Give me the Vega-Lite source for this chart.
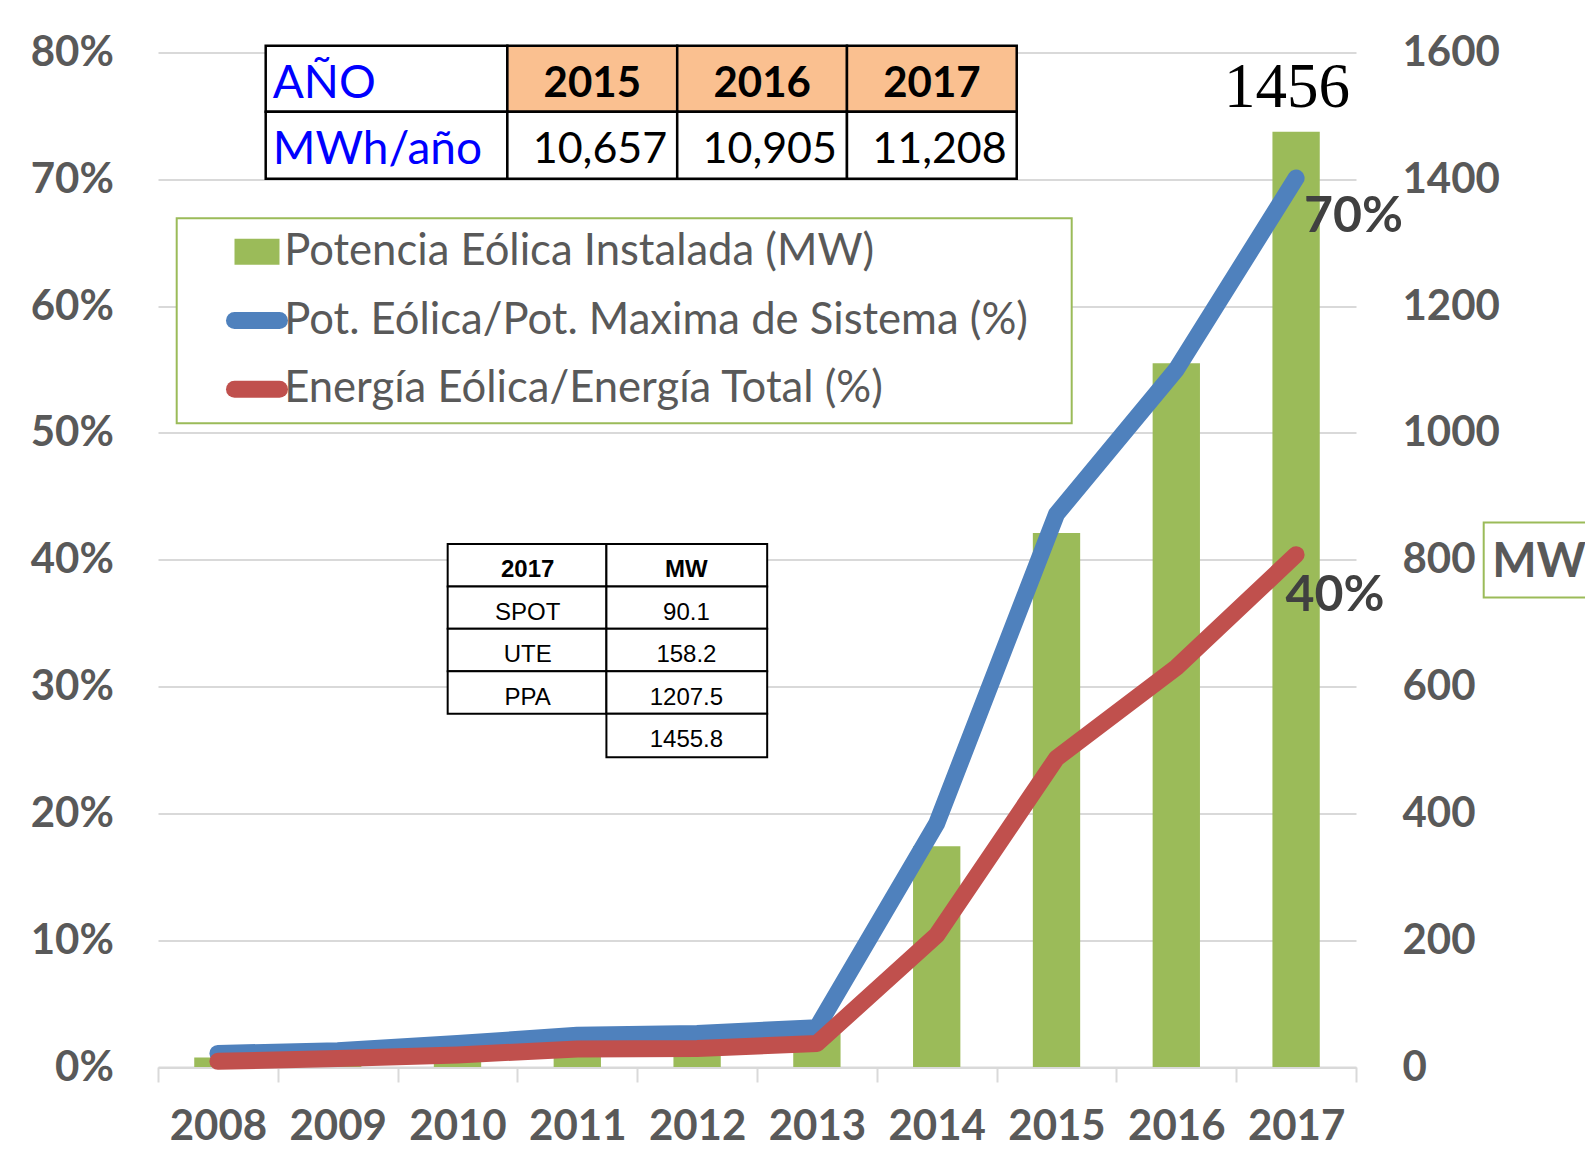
{
  "$schema": "https://vega.github.io/schema/vega-lite/v6.json",
  "width": 1198,
  "height": 1014.5,
  "autosize": {"type": "none"},
  "padding": {"left": 158, "top": 52.5, "right": 229, "bottom": 88},
  "background": "white",
  "config": {"view": {"stroke": null}, "font": "Lato"},
  "datasets": {
    "bars": [
      {"year": "2008", "mw": 15},
      {"year": "2009", "mw": 18},
      {"year": "2010", "mw": 25},
      {"year": "2011", "mw": 38},
      {"year": "2012", "mw": 44},
      {"year": "2013", "mw": 53},
      {"year": "2014", "mw": 348},
      {"year": "2015", "mw": 842},
      {"year": "2016", "mw": 1110},
      {"year": "2017", "mw": 1475, "label": "1456"}
    ],
    "lines": [
      {"year": "2008", "series": "Pot. Eólica/Pot. Maxima de Sistema (%)", "value": 0.0107},
      {"year": "2009", "series": "Pot. Eólica/Pot. Maxima de Sistema (%)", "value": 0.0128},
      {"year": "2010", "series": "Pot. Eólica/Pot. Maxima de Sistema (%)", "value": 0.0185},
      {"year": "2011", "series": "Pot. Eólica/Pot. Maxima de Sistema (%)", "value": 0.025},
      {"year": "2012", "series": "Pot. Eólica/Pot. Maxima de Sistema (%)", "value": 0.0264},
      {"year": "2013", "series": "Pot. Eólica/Pot. Maxima de Sistema (%)", "value": 0.031},
      {"year": "2014", "series": "Pot. Eólica/Pot. Maxima de Sistema (%)", "value": 0.192},
      {"year": "2015", "series": "Pot. Eólica/Pot. Maxima de Sistema (%)", "value": 0.436},
      {"year": "2016", "series": "Pot. Eólica/Pot. Maxima de Sistema (%)", "value": 0.55},
      {"year": "2017", "series": "Pot. Eólica/Pot. Maxima de Sistema (%)", "value": 0.701},
      {"year": "2008", "series": "Energía Eólica/Energía Total (%)", "value": 0.0045},
      {"year": "2009", "series": "Energía Eólica/Energía Total (%)", "value": 0.0067},
      {"year": "2010", "series": "Energía Eólica/Energía Total (%)", "value": 0.0095},
      {"year": "2011", "series": "Energía Eólica/Energía Total (%)", "value": 0.0142},
      {"year": "2012", "series": "Energía Eólica/Energía Total (%)", "value": 0.0146},
      {"year": "2013", "series": "Energía Eólica/Energía Total (%)", "value": 0.0185},
      {"year": "2014", "series": "Energía Eólica/Energía Total (%)", "value": 0.104},
      {"year": "2015", "series": "Energía Eólica/Energía Total (%)", "value": 0.2435},
      {"year": "2016", "series": "Energía Eólica/Energía Total (%)", "value": 0.315},
      {"year": "2017", "series": "Energía Eólica/Energía Total (%)", "value": 0.404}
    ],
    "topTable": [
      {"kind": "rowhead", "text": "AÑO", "x0": 0.899, "x1": 2.916, "y0": 80.53, "y1": 75.33},
      {"kind": "year", "text": "2015", "x0": 2.916, "x1": 4.334, "y0": 80.53, "y1": 75.33},
      {"kind": "year", "text": "2016", "x0": 4.334, "x1": 5.751, "y0": 80.53, "y1": 75.33},
      {"kind": "year", "text": "2017", "x0": 5.751, "x1": 7.168, "y0": 80.53, "y1": 75.33},
      {"kind": "rowhead", "text": "MWh/año", "x0": 0.899, "x1": 2.916, "y0": 75.33, "y1": 70.05},
      {"kind": "num", "text": "10,657", "x0": 2.916, "x1": 4.334, "y0": 75.33, "y1": 70.05},
      {"kind": "num", "text": "10,905", "x0": 4.334, "x1": 5.751, "y0": 75.33, "y1": 70.05},
      {"kind": "num", "text": "11,208", "x0": 5.751, "x1": 7.168, "y0": 75.33, "y1": 70.05}
    ],
    "midTable": [
      {"kind": "head", "text": "2017", "x0": 2.418, "x1": 3.743, "y0": 41.25, "y1": 37.9},
      {"kind": "head", "text": "MW", "x0": 3.743, "x1": 5.085, "y0": 41.25, "y1": 37.9},
      {"kind": "body", "text": "SPOT", "x0": 2.418, "x1": 3.743, "y0": 37.9, "y1": 34.55},
      {"kind": "body", "text": "90.1", "x0": 3.743, "x1": 5.085, "y0": 37.9, "y1": 34.55},
      {"kind": "body", "text": "UTE", "x0": 2.418, "x1": 3.743, "y0": 34.55, "y1": 31.2},
      {"kind": "body", "text": "158.2", "x0": 3.743, "x1": 5.085, "y0": 34.55, "y1": 31.2},
      {"kind": "body", "text": "PPA", "x0": 2.418, "x1": 3.743, "y0": 31.2, "y1": 27.85},
      {"kind": "body", "text": "1207.5", "x0": 3.743, "x1": 5.085, "y0": 31.2, "y1": 27.85},
      {"kind": "body", "text": "1455.8", "x0": 3.743, "x1": 5.085, "y0": 27.85, "y1": 24.43}
    ],
    "mwBox": [
      {"text": "MW", "x0": 11.066, "x1": 12.2, "y0": 42.94, "y1": 37.03}
    ]
  },
  "resolve": {"scale": {"x": "independent", "y": "independent"}},
  "layer": [
    {
      "data": {"name": "bars"},
      "layer": [
        {
          "mark": {"type": "bar", "width": {"band": 0.395}},
          "encoding": {
            "x": {
              "field": "year", "type": "nominal",
              "scale": {"paddingInner": 0, "paddingOuter": 0},
              "axis": {
                "title": null, "labelAngle": 0, "labelFont": "Lato", "labelFontWeight": "bold",
                "labelFontSize": 42, "labelColor": "#595959", "domainColor": "#D9D9D9", "domainWidth": 2,
                "tickColor": "#D9D9D9", "tickWidth": 2, "tickSize": 15, "tickBand": "extent",
                "labelPadding": 24, "grid": false
              }
            },
            "y": {
              "field": "mw", "type": "quantitative",
              "scale": {"domain": [0, 1600], "nice": false},
              "axis": {
                "orient": "right", "title": null, "values": [0, 200, 400, 600, 800, 1000, 1200, 1400, 1600], "format": "d",
                "grid": false, "domain": false, "ticks": false, "tickSize": 0, "labelPadding": 46,
                "labelFont": "Lato", "labelFontWeight": "bold", "labelFontSize": 42, "labelColor": "#595959"
              }
            },
            "color": {
              "datum": "Potencia Eólica Instalada (MW)",
              "type": "nominal",
              "title": null,
              "scale": {
                "domain": ["Potencia Eólica Instalada (MW)", "Pot. Eólica/Pot. Maxima de Sistema (%)", "Energía Eólica/Energía Total (%)"],
                "range": ["#9BBB59", "#4F81BD", "#C0504D"]
              },
              "legend": {
                "orient": "none", "legendX": 18.7, "legendY": 165.8, "direction": "vertical", "columns": 1,
                "title": null, "padding": 11, "fillColor": "white", "strokeColor": "#9BBB59",
                "symbolSize": 2025, "symbolStrokeWidth": 0, "symbolOffset": 47.5, "labelOffset": 5.4,
                "rowPadding": 23.7, "clipHeight": 45, "labelFont": "Lato", "labelFontSize": 43.6, "labelColor": "#595959",
                "labelLimit": 2000,
                "labelExpr": "datum.label + '\u2800'",
                "encode": {
                  "legend": {"update": {"strokeWidth": {"value": 2}}},
                  "symbols": {
                    "update": {
                      "shape": {"signal": "datum.value === 'Potencia Eólica Instalada (MW)' ? 'M-1,-0.58H1V0.58H-1Z' : 'M-1,0H1'"},
                      "fill": {"scale": "color", "field": "value"},
                      "stroke": {"scale": "color", "field": "value"},
                      "strokeWidth": {"signal": "datum.value === 'Potencia Eólica Instalada (MW)' ? 0 : 17"},
                      "strokeCap": {"value": "round"},
                      "opacity": {"value": 1}
                    }
                  }
                }
              }
            }
          }
        },
        {
          "transform": [{"filter": "isValid(datum.label)"}],
          "mark": {"type": "text", "font": "Liberation Serif", "fontSize": 63, "color": "black", "align": "center", "baseline": "alphabetic", "dx": -9, "dy": -25},
          "encoding": {
            "x": {"field": "year", "type": "nominal"},
            "y": {"field": "mw", "type": "quantitative"},
            "text": {"field": "label"}
          }
        }
      ]
    },
    {
      "data": {"name": "lines"},
      "encoding": {
        "x": {"field": "year", "type": "nominal", "scale": {"paddingInner": 0, "paddingOuter": 0}, "axis": null},
        "y": {
          "field": "value", "type": "quantitative",
          "scale": {"domain": [0, 0.8], "nice": false},
          "axis": {
            "orient": "left", "title": null, "values": [0, 0.1, 0.2, 0.3, 0.4, 0.5, 0.6, 0.7, 0.8], "format": ".0%",
            "grid": true, "gridColor": "#D9D9D9", "gridWidth": 2, "domain": false, "ticks": false, "tickSize": 0,
            "labelPadding": 44.7, "labelFont": "Lato", "labelFontWeight": "bold", "labelFontSize": 42, "labelColor": "#595959"
          }
        }
      },
      "layer": [
        {
          "transform": [{"filter": "datum.series === 'Pot. Eólica/Pot. Maxima de Sistema (%)'"}],
          "mark": {"type": "line", "strokeWidth": 17, "strokeCap": "round", "strokeJoin": "round"},
          "encoding": {"color": {"field": "series", "type": "nominal", "title": null, "legend": {"title": null}}}
        },
        {
          "transform": [{"filter": "datum.series === 'Energía Eólica/Energía Total (%)'"}],
          "mark": {"type": "line", "strokeWidth": 17, "strokeCap": "round", "strokeJoin": "round"},
          "encoding": {"color": {"field": "series", "type": "nominal", "title": null, "legend": {"title": null}}}
        },
        {
          "transform": [{"filter": "datum.year === '2017' && datum.series === 'Pot. Eólica/Pot. Maxima de Sistema (%)'"}],
          "mark": {"type": "text", "font": "Lato", "fontWeight": "bold", "fontSize": 50, "color": "#404040", "align": "left", "baseline": "middle", "dx": 8, "dy": 39},
          "encoding": {"text": {"field": "value", "format": ".0%"}}
        },
        {
          "transform": [{"filter": "datum.year === '2017' && datum.series === 'Energía Eólica/Energía Total (%)'"}],
          "mark": {"type": "text", "font": "Lato", "fontWeight": "bold", "fontSize": 50, "color": "#404040", "align": "left", "baseline": "middle", "dx": -10.6, "dy": 41},
          "encoding": {"text": {"field": "value", "format": ".0%"}}
        }
      ]
    },
    {
      "data": {"name": "topTable"},
      "encoding": {
        "x": {"field": "x0", "type": "quantitative", "scale": {"domain": [0, 10], "nice": false, "zero": false}, "axis": null},
        "y": {"field": "y0", "type": "quantitative", "scale": {"domain": [0, 80], "nice": false, "zero": false}, "axis": null}
      },
      "layer": [
        {
          "mark": {"type": "rect", "stroke": "black", "strokeWidth": 2.5},
          "encoding": {
            "x2": {"field": "x1"},
            "y2": {"field": "y1"},
            "fill": {"condition": {"test": "datum.kind === 'year'", "value": "#FAC090"}, "value": "white"}
          }
        },
        {
          "transform": [{"filter": "datum.kind === 'rowhead'"}],
          "mark": {"type": "text", "font": "Lato", "fontSize": 46, "color": "#0000FF", "align": "left", "baseline": "alphabetic", "dx": 7, "dy": 52},
          "encoding": {"text": {"field": "text"}}
        },
        {
          "transform": [{"filter": "datum.kind === 'year'"}],
          "mark": {"type": "text", "font": "Lato", "fontWeight": "bold", "fontSize": 42, "color": "black", "align": "center", "baseline": "alphabetic", "dx": 85, "dy": 51.5},
          "encoding": {"text": {"field": "text"}}
        },
        {
          "transform": [{"filter": "datum.kind === 'num'"}],
          "mark": {"type": "text", "font": "Lato", "fontSize": 43, "color": "black", "align": "right", "baseline": "alphabetic", "dy": 51.5},
          "encoding": {"x": {"field": "x1", "type": "quantitative"}, "text": {"field": "text"}, "xOffset": {"value": -10}}
        }
      ]
    },
    {
      "data": {"name": "midTable"},
      "encoding": {
        "x": {"field": "x0", "type": "quantitative", "scale": {"domain": [0, 10], "nice": false, "zero": false}, "axis": null},
        "y": {"field": "y0", "type": "quantitative", "scale": {"domain": [0, 80], "nice": false, "zero": false}, "axis": null}
      },
      "layer": [
        {
          "mark": {"type": "rect", "stroke": "black", "strokeWidth": 2, "fill": "white"},
          "encoding": {"x2": {"field": "x1"}, "y2": {"field": "y1"}}
        },
        {
          "transform": [{"filter": "datum.kind === 'head'"}],
          "mark": {"type": "text", "font": "Liberation Sans", "fontWeight": "bold", "fontSize": 24, "color": "black", "align": "center", "baseline": "alphabetic", "dx": 80, "dy": 33.5},
          "encoding": {"text": {"field": "text"}}
        },
        {
          "transform": [{"filter": "datum.kind === 'body'"}],
          "mark": {"type": "text", "font": "Liberation Sans", "fontSize": 24, "color": "black", "align": "center", "baseline": "alphabetic", "dx": 80, "dy": 33.5},
          "encoding": {"text": {"field": "text"}}
        }
      ]
    },
    {
      "data": {"name": "mwBox"},
      "encoding": {
        "x": {"field": "x0", "type": "quantitative", "scale": {"domain": [0, 10], "nice": false, "zero": false}, "axis": null},
        "y": {"field": "y0", "type": "quantitative", "scale": {"domain": [0, 80], "nice": false, "zero": false}, "axis": null}
      },
      "layer": [
        {
          "mark": {"type": "rect", "stroke": "#9BBB59", "strokeWidth": 2, "fill": "white"},
          "encoding": {"x2": {"field": "x1"}, "y2": {"field": "y1"}}
        },
        {
          "mark": {"type": "text", "font": "Lato", "fontWeight": "bold", "fontSize": 47, "color": "#595959", "align": "left", "baseline": "middle", "dx": 8.5, "dy": 41},
          "encoding": {"text": {"field": "text"}}
        }
      ]
    }
  ]
}
